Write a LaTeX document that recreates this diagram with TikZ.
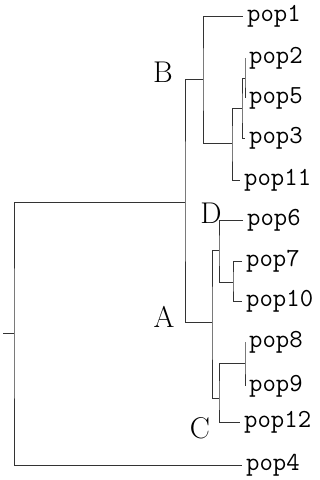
\documentclass[tikz,border=0pt]{standalone}
\usepackage{fontspec}
\newfontfamily\labfont{Latin Modern Mono}
\newfontfamily\cladefont{Latin Modern Roman}
\begin{document}
\begin{tikzpicture}[x=1pt,y=-1pt,
  br/.style={draw=black!80,line width=0.8pt},
  leaf/.style={anchor=west,inner xsep=4pt,inner ysep=0pt,font=\labfont\fontsize{26}{26}\selectfont},
  clade/.style={inner sep=0pt,font=\cladefont\fontsize{30}{30}\selectfont}]
\useasboundingbox (0,0) rectangle (320,480);
% leaves
\node[leaf] (p1) at (243,16) {pop1};
\node[leaf] (p2) at (245,58) {pop2};
\node[leaf] (p5) at (245,98) {pop5};
\node[leaf] (p3) at (245,138) {pop3};
\node[leaf] (p11) at (240,180) {pop11};
\node[leaf] (p6) at (243,220) {pop6};
\node[leaf] (p7) at (242,261) {pop7};
\node[leaf] (p10) at (242,301) {pop10};
\node[leaf] (p8) at (245,342) {pop8};
\node[leaf] (p9) at (245,386) {pop9};
\node[leaf] (p12) at (240,422) {pop12};
\node[leaf] (p4) at (242,465) {pop4};
% internal nodes
\coordinate (root) at (14,333);
\coordinate (stub) at (3,333);
\coordinate (M) at (185,202);
\coordinate (B) at (203,79);
\coordinate (n311) at (232,143);
\coordinate (n253) at (242,108);
\coordinate (n25) at (245,78);
\coordinate (A) at (212,322);
\coordinate (D) at (219,250);
\coordinate (n710) at (233,282);
\coordinate (C) at (219,398);
\coordinate (n89) at (245,363);
% branches
\draw[br] (stub) -- (root);
\draw[br] (M) -| (root) |- (p4.west);
\draw[br] (B) -| (M) |- (A);
\draw[br] (p1.west) -| (B) |- (n311);
\draw[br] (n253) -| (n311) |- (p11.west);
\draw[br] (n25) -| (n253) |- (p3.west);
\draw[br] (p2.west) -| (n25) |- (p5.west);
\draw[br] (D) -| (A) |- (C);
\draw[br] (p6.west) -| (D) |- (n710);
\draw[br] (p7.west) -| (n710) |- (p10.west);
\draw[br] (n89) -| (C) |- (p12.west);
\draw[br] (p8.west) -| (n89) |- (p9.west);
% clade labels
\node[clade] (lB) at (163,72) {B};
\node[clade] (lD) at (211,213) {D};
\node[clade] (lA) at (164,317) {A};
\node[clade] (lC) at (200,428) {C};
\end{tikzpicture}
\end{document}
